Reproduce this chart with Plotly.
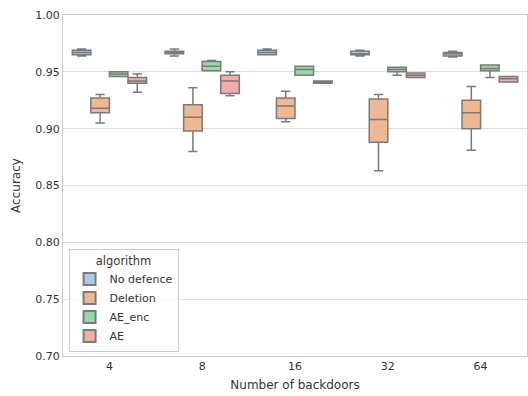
import plotly.graph_objects as go

categories = ["4", "8", "16", "32", "64"]
algorithms = ["No defence", "Deletion", "AE_enc", "AE"]

# per algorithm: lower whisker, q1, median, q3, upper whisker for each category
no_def_low = [0.964, 0.964, 0.965, 0.964, 0.963]
no_def_q1 = [0.965, 0.966, 0.965, 0.965, 0.964]
no_def_med = [0.967, 0.967, 0.967, 0.966, 0.966]
no_def_q3 = [0.969, 0.968, 0.969, 0.968, 0.967]
no_def_high = [0.970, 0.970, 0.970, 0.969, 0.968]

del_low = [0.905, 0.880, 0.906, 0.863, 0.881]
del_q1 = [0.914, 0.898, 0.909, 0.888, 0.900]
del_med = [0.918, 0.910, 0.920, 0.908, 0.914]
del_q3 = [0.927, 0.921, 0.927, 0.926, 0.925]
del_high = [0.930, 0.936, 0.933, 0.930, 0.937]

enc_low = [0.946, 0.951, 0.947, 0.947, 0.945]
enc_q1 = [0.946, 0.951, 0.947, 0.950, 0.951]
enc_med = [0.948, 0.955, 0.952, 0.952, 0.953]
enc_q3 = [0.950, 0.959, 0.955, 0.954, 0.956]
enc_high = [0.950, 0.960, 0.955, 0.954, 0.956]

ae_low = [0.932, 0.929, 0.940, 0.945, 0.941]
ae_q1 = [0.940, 0.931, 0.940, 0.945, 0.941]
ae_med = [0.942, 0.942, 0.941, 0.947, 0.944]
ae_q3 = [0.945, 0.947, 0.942, 0.949, 0.946]
ae_high = [0.948, 0.950, 0.942, 0.949, 0.946]

stats = {
    "No defence": (no_def_low, no_def_q1, no_def_med, no_def_q3, no_def_high),
    "Deletion": (del_low, del_q1, del_med, del_q3, del_high),
    "AE_enc": (enc_low, enc_q1, enc_med, enc_q3, enc_high),
    "AE": (ae_low, ae_q1, ae_med, ae_q3, ae_high),
}
colors = {"No defence": "#abc9e9", "Deletion": "#efb792", "AE_enc": "#98daa7", "AE": "#f2aba7"}

fig = go.Figure()
for alg in algorithms:
    lo, q1, med, q3, hi = stats[alg]
    fig.add_trace(go.Box(
        name=alg, x=categories, q1=q1, median=med, q3=q3,
        lowerfence=lo, upperfence=hi,
        fillcolor=colors[alg],
        line=dict(color="#7a7a7a", width=1.5),
        whiskerwidth=0.5, boxpoints=False,
    ))

fig.update_layout(
    width=528, height=396,
    margin=dict(l=63, r=1, t=15, b=40),
    paper_bgcolor="white", plot_bgcolor="white",
    boxmode="group", boxgap=0.2, boxgroupgap=0,
    font=dict(family="DejaVu Sans", size=11, color="#333333"),
    xaxis=dict(type="category", categoryorder="array", categoryarray=categories,
               title=dict(text="Number of backdoors", font=dict(size=12), standoff=8),
               showgrid=False, showline=True, linecolor="#cccccc", linewidth=1, mirror=True,
               ticks="", zeroline=False),
    yaxis=dict(range=[0.70, 1.00], dtick=0.05, tickformat=".2f",
               title=dict(text="Accuracy", font=dict(size=12), standoff=12),
               showgrid=True, gridcolor="#dddddd", gridwidth=1,
               showline=True, linecolor="#cccccc", linewidth=1, mirror=True,
               ticks="", zeroline=False),
    legend=dict(title=dict(text="algorithm", side="top center", font=dict(size=11.5)),
                x=0.012, y=0.013, xanchor="left", yanchor="bottom",
                bgcolor="rgba(255,255,255,0.8)", bordercolor="#cccccc", borderwidth=1,
                font=dict(size=11), tracegroupgap=0, itemsizing="constant"),
)

fig.write_html("out.html")
